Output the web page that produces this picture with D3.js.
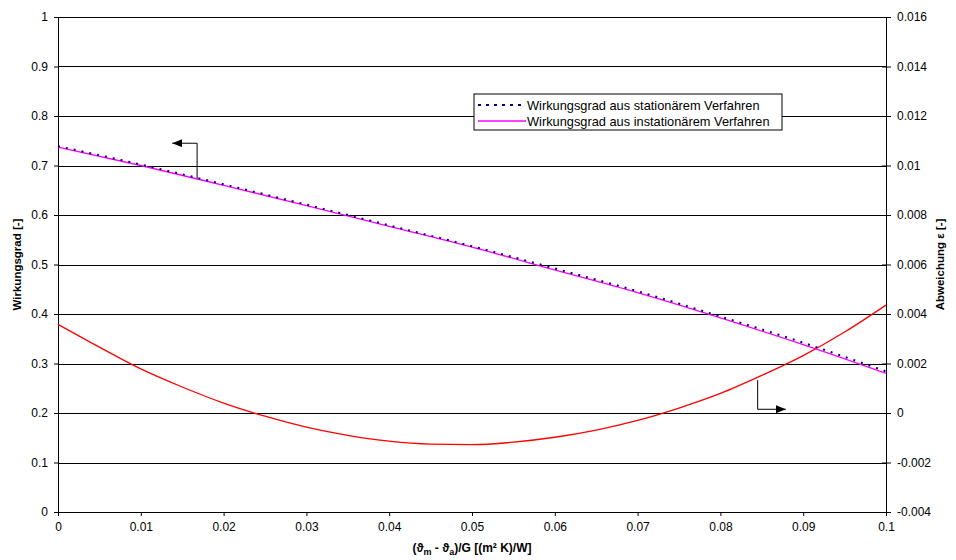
<!DOCTYPE html>
<html>
<head>
<meta charset="utf-8">
<script src="https://cdn.jsdelivr.net/npm/d3@7"></script>
<style>
  body { margin: 0; background: #fff; }
  svg text { font-family: "Liberation Sans", Arial, sans-serif; }
</style>
</head>
<body>
<div id="viz"></div>
<script>
// x values (ϑm - ϑa)/G
var xVals = [0, 0.01, 0.02, 0.03, 0.04, 0.05, 0.06, 0.07, 0.08, 0.09, 0.1]
// efficiency, stationary and instationary method
var etaStat = [0.739, 0.702, 0.662, 0.621, 0.579, 0.537, 0.492, 0.446, 0.395, 0.342, 0.284]
var etaInst = [0.737, 0.700, 0.660, 0.619, 0.577, 0.535, 0.489, 0.443, 0.392, 0.338, 0.280]
// deviation epsilon (right axis)
var epsX = [0, 0.005, 0.01, 0.015, 0.02, 0.025, 0.03, 0.035, 0.04, 0.045, 0.05, 0.055,
            0.06, 0.065, 0.07, 0.075, 0.08, 0.085, 0.09, 0.095, 0.1]
var epsVals = [0.00358, 0.00266, 0.00178, 0.00105, 0.00040, -0.00013, -0.00057, -0.00090,
               -0.00114, -0.00126, -0.00128, -0.00118, -0.00098, -0.00069, -0.00030, 0.00020,
               0.00079, 0.00152, 0.00232, 0.00327, 0.00436]
var xTicks = [0, 0.01, 0.02, 0.03, 0.04, 0.05, 0.06, 0.07, 0.08, 0.09, 0.1]
var yTicks = [0, 0.1, 0.2, 0.3, 0.4, 0.5, 0.6, 0.7, 0.8, 0.9, 1]
var y2Ticks = [-0.004, -0.002, 0, 0.002, 0.004, 0.006, 0.008, 0.01, 0.012, 0.014, 0.016]
var legendLabels = ["Wirkungsgrad aus stationärem Verfahren", "Wirkungsgrad aus instationärem Verfahren"]

var margin = { top: 17, right: 70, bottom: 48, left: 58 },
  width = 956,
  height = 560,
  innerW = width - margin.left - margin.right,
  innerH = height - margin.top - margin.bottom;

var svg = d3.select("#viz").append("svg")
  .attr("width", width)
  .attr("height", height)

var g = svg.append("g")
  .attr("transform", "translate(" + margin.left + "," + margin.top + ")")

var x = d3.scaleLinear().domain([0, 0.1]).range([0, innerW])
var y = d3.scaleLinear().domain([0, 1]).range([innerH, 0])
var y2 = d3.scaleLinear().domain([-0.004, 0.016]).range([innerH, 0])

// gridlines
g.append("g").selectAll("line")
  .data(yTicks.slice(1))
  .enter().append("line")
  .attr("x1", 0).attr("x2", innerW)
  .attr("y1", d => Math.round(y(d)) + 0.5)
  .attr("y2", d => Math.round(y(d)) + 0.5)
  .style("stroke", "#000")
  .style("stroke-width", 1)

// axes
var fmt = d => d === 0 ? "0" : String(+d.toFixed(3))

var xAxis = g.append("g")
  .attr("transform", "translate(0," + innerH + ")")
  .call(d3.axisBottom(x).tickValues(xTicks).tickFormat(fmt).tickSize(4).tickPadding(6))

var yAxis = g.append("g")
  .call(d3.axisLeft(y).tickValues(yTicks).tickFormat(fmt).tickSize(4).tickPadding(6))

var y2Axis = g.append("g")
  .attr("transform", "translate(" + innerW + ",0)")
  .call(d3.axisRight(y2).tickValues(y2Ticks).tickFormat(fmt).tickSize(5).tickPadding(6))

// right axis ticks cross the axis line
y2Axis.selectAll(".tick line").attr("x1", -4)

;[xAxis, yAxis, y2Axis].forEach(a => {
  a.selectAll("text").style("font-size", "12px").style("fill", "#000")
  a.selectAll("line").style("stroke", "#000")
  a.select(".domain").style("stroke", "#000")
})

// curves
var effPts = xVals.map((d, i) => ({ x: d, stat: etaStat[i], inst: etaInst[i] }))
var epsPts = epsX.map((d, i) => ({ x: d, e: epsVals[i] }))

var lineInst = d3.line().x(d => x(d.x)).y(d => y(d.inst)).curve(d3.curveMonotoneX)
var lineStat = d3.line().x(d => x(d.x)).y(d => y(d.stat)).curve(d3.curveMonotoneX)
var lineEps = d3.line().x(d => x(d.x)).y(d => y2(d.e)).curve(d3.curveMonotoneX)

g.append("path").datum(epsPts)
  .attr("d", lineEps)
  .style("fill", "none").style("stroke", "#ff0000").style("stroke-width", 1.3)

g.append("path").datum(effPts)
  .attr("d", lineInst)
  .style("fill", "none").style("stroke", "#ff00ff").style("stroke-width", 1.3)

g.append("path").datum(effPts)
  .attr("d", lineStat)
  .style("fill", "none").style("stroke", "#000080").style("stroke-width", 2)
  .style("stroke-dasharray", "2,6")

// annotation arrows (data units)
svg.append("defs").append("marker")
  .attr("id", "arrow")
  .attr("viewBox", "0 0 10 8")
  .attr("refX", 10).attr("refY", 4)
  .attr("markerWidth", 10).attr("markerHeight", 8)
  .attr("markerUnits", "userSpaceOnUse")
  .attr("orient", "auto")
  .append("path")
  .attr("d", "M0,0 L10,4 L0,8 z")
  .style("fill", "#000")

var arrowLeft = [[0.0168, 0.674], [0.0168, 0.745], [0.0138, 0.745]]
var arrowRight = [[0.0845, 0.00133], [0.0845, 0.00015], [0.0879, 0.00015]]

g.append("path")
  .attr("d", d3.line().x(d => x(d[0])).y(d => y(d[1]))(arrowLeft))
  .style("fill", "none").style("stroke", "#000").style("stroke-width", 1)
  .attr("marker-end", "url(#arrow)")

g.append("path")
  .attr("d", d3.line().x(d => x(d[0])).y(d => y2(d[1]))(arrowRight))
  .style("fill", "none").style("stroke", "#000").style("stroke-width", 1)
  .attr("marker-end", "url(#arrow)")

// legend
var legend = svg.append("g").attr("transform", "translate(474,94)")
legend.append("rect")
  .attr("width", 308).attr("height", 36)
  .style("fill", "#fff").style("stroke", "#000").style("stroke-width", 1)

var legendStyles = [
  { stroke: "#000080", width: 2, dash: "3,5" },
  { stroke: "#ff00ff", width: 1.3, dash: null }
]
legendLabels.forEach((lab, i) => {
  var row = legend.append("g").attr("transform", "translate(0," + (11 + i * 16) + ")")
  row.append("line")
    .attr("x1", 4).attr("x2", 52).attr("y1", 0).attr("y2", 0)
    .style("stroke", legendStyles[i].stroke)
    .style("stroke-width", legendStyles[i].width)
    .style("stroke-dasharray", legendStyles[i].dash)
  row.append("text")
    .attr("x", 53).attr("y", 4.5)
    .style("font-size", "12.8px")
    .text(lab)
})

// axis titles
svg.append("text")
  .attr("transform", "translate(21," + (margin.top + innerH / 2) + ") rotate(-90)")
  .attr("text-anchor", "middle")
  .style("font-size", "11.5px").style("font-weight", "bold")
  .text("Wirkungsgrad [-]")

svg.append("text")
  .attr("transform", "translate(944," + (margin.top + innerH / 2) + ") rotate(-90)")
  .attr("text-anchor", "middle")
  .style("font-size", "11.5px").style("font-weight", "bold")
  .text("Abweichung ε [-]")

var xt = svg.append("text")
  .attr("x", margin.left + innerW / 2).attr("y", 552)
  .attr("text-anchor", "middle")
  .style("font-size", "12px").style("font-weight", "bold")
xt.append("tspan").text("(ϑ")
xt.append("tspan").attr("dy", 3).style("font-size", "9px").text("m")
xt.append("tspan").attr("dy", -3).text(" - ϑ")
xt.append("tspan").attr("dy", 3).style("font-size", "9px").text("a")
xt.append("tspan").attr("dy", -3).text(")/G [(m² K)/W]")
</script>
</body>
</html>
